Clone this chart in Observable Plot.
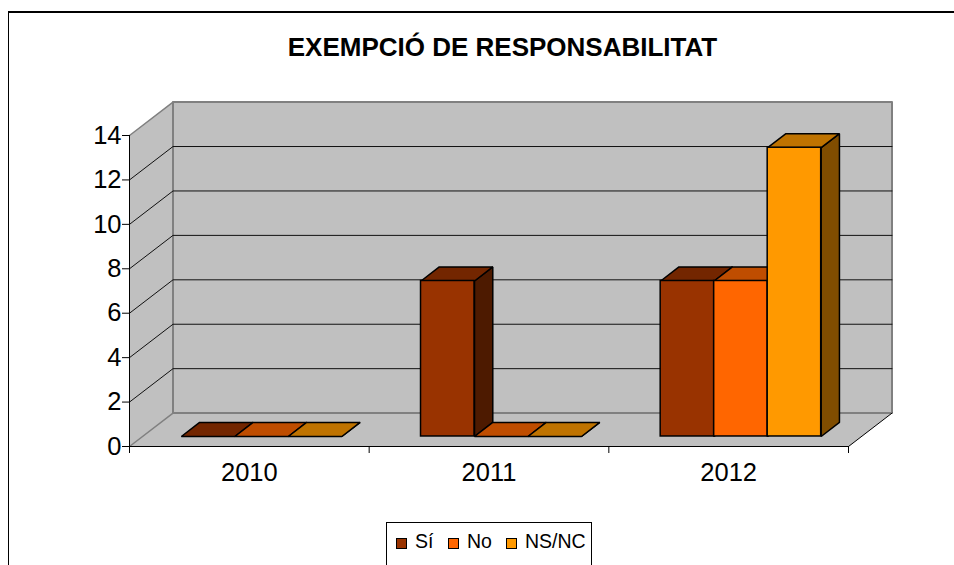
<!DOCTYPE html>
<html lang="ca">
<head>
<meta charset="utf-8">
<script src="https://cdn.jsdelivr.net/npm/d3@7"></script>
<script src="https://cdn.jsdelivr.net/npm/@observablehq/plot@0.6"></script>
<style>
  html, body { margin: 0; padding: 0; background: #fff; }
  #page { position: relative; width: 954px; height: 565px; overflow: hidden; font-family: "Liberation Sans", Arial, sans-serif; color: #000; }
  #frame { position: absolute; left: 8px; top: 11px; width: 960px; height: 600px; border-left: 1.5px solid #000; border-top: 2px solid #000; }
  #title { position: absolute; left: 0; width: 1005px; top: 33px; text-align: center; font-size: 26px; font-weight: bold; line-height: 28px; }
  #chart { position: absolute; left: 0; top: 0; }
  #chart svg { background: transparent; }
  #legend { position: absolute; left: 386px; top: 522px; width: 204px; height: 42px; border: 1px solid #000; box-sizing: content-box; font-size: 19.5px; }
  #legend span.s { position: absolute; top: 15px; width: 9px; height: 9px; border: 1.5px solid #000; }
  #legend span.t { position: absolute; top: 8px; line-height: 20px; }
</style>
</head>
<body>
<div id="page">
  <div id="frame"></div>
  <div id="chart"></div>
  <div id="title">EXEMPCIÓ DE RESPONSABILITAT</div>
  <div id="legend"></div>
</div>
<script>
const title = "EXEMPCIÓ DE RESPONSABILITAT";
const years = ["2010", "2011", "2012"];
const seriesNames = ["Sí", "No", "NS/NC"];
const valuesSi = [0, 7, 7];
const valuesNo = [0, 0, 7];
const valuesNsNc = [0, 0, 13];
const yTicks = [0, 2, 4, 6, 8, 10, 12, 14];
const frontColors = ["#993300", "#ff6600", "#ff9900"];
const topColors = ["#732600", "#bf4d00", "#bf7300"];
const sideColors = ["#4d1a00", "#803300", "#804d00"];

const seriesValues = [valuesSi, valuesNo, valuesNsNc];

// Layout of the oblique projection
const W = 954, H = 565;
const left = 129, right = 848, top_ = 135, bottom = 446;
const depthX = 43.5, depthY = 33.4;
const pxPerCat = (right - left) / years.length;
const pxPerUnit = (bottom - top_) / 14;
const P = (x, v, d) => ({x: x + d * depthX / pxPerCat, y: v + d * depthY / pxPerUnit});

// Bar geometry, in category units / depth fractions
const barFront = 0.30, barBack = 0.72;
const barGap = 38.8 / pxPerCat, barW = 53.5 / pxPerCat;

const wallFill = "#c0c0c0", edge = "#808080";
const poly = (pts, o) => Plot.line(pts, {x: "x", y: "y", curve: "linear-closed", ...o});
const seg = (pts, o) => Plot.line(pts, {x: "x", y: "y", ...o});

const marks = [];

// Walls and floor
marks.push(poly([P(0,0,0),P(3,0,0),P(3,0,1),P(0,0,1)], {fill: wallFill, stroke: "none"}));
marks.push(poly([P(0,0,0),P(0,14,0),P(0,14,1),P(0,0,1)], {fill: wallFill, stroke: "none"}));
marks.push(poly([P(0,0,1),P(3,0,1),P(3,14,1),P(0,14,1)], {fill: wallFill, stroke: edge, strokeWidth: 2}));

// Gridlines
for (const v of yTicks) {
  if (v === 0 || v === 14) continue;
  marks.push(seg([P(0,v,0),P(0,v,1),P(3,v,1)], {stroke: "#111", strokeWidth: 1}));
}

// Wall edges
marks.push(seg([P(0,14,0),P(0,14,1)], {stroke: edge, strokeWidth: 1.5}));
marks.push(seg([P(0,0,0),P(0,0,1)], {stroke: edge, strokeWidth: 1.5}));
marks.push(seg([P(3,0,0),P(3,0,1)], {stroke: "#000", strokeWidth: 1}));

// Bars, painted back to front so later bars overlap earlier ones
years.forEach((year, i) => {
  seriesNames.forEach((name, s) => {
    const v = seriesValues[s][i];
    const x0 = i + barGap + s * barW, x1 = x0 + barW;
    const style = {stroke: "#000", strokeWidth: 1.5, strokeLinejoin: "miter"};
    marks.push(poly([P(x1,0,barFront),P(x1,v,barFront),P(x1,v,barBack),P(x1,0,barBack)], {fill: sideColors[s], ...style}));
    marks.push(poly([P(x0,v,barFront),P(x1,v,barFront),P(x1,v,barBack),P(x0,v,barBack)], {fill: topColors[s], ...style}));
    const a = P(x0, 0, barFront), b = P(x1, v, barFront);
    marks.push(Plot.rectY([{year, name, v}], {x1: () => a.x, x2: () => b.x, y1: () => a.y, y2: () => b.y, fill: frontColors[s], ...style}));
  });
});

// Axes
marks.push(Plot.axisY({ticks: yTicks, tickSize: 7, tickPadding: 1, fontSize: 25.5, label: null, stroke: "#000", fill: "#000"}));
marks.push(Plot.ruleX([0], {y1: 0, y2: 14, stroke: "#000", strokeWidth: 1}));
marks.push(Plot.ruleY([0], {x1: 0, x2: 3, stroke: "#000", strokeWidth: 1}));
marks.push(Plot.axisX({ticks: [0, 1, 2, 3], tickSize: 7, tickFormat: () => "", label: null, stroke: "#000"}));
marks.push(Plot.axisX({ticks: years.map((_, i) => i + 0.5), tickSize: 0, tickPadding: 16, fontSize: 25.5, label: null, fill: "#000", tickFormat: d => years[Math.floor(d)]}));

const chart = Plot.plot({
  width: W, height: H,
  marginLeft: left, marginRight: W - right, marginTop: top_, marginBottom: H - bottom,
  x: {type: "linear", domain: [0, 3]},
  y: {type: "linear", domain: [0, 14]},
  style: {fontFamily: '"Liberation Sans", Arial, sans-serif', background: "transparent", color: "#000", overflow: "visible"},
  marks
});
document.getElementById("chart").append(chart);
document.getElementById("title").textContent = title;

// Legend
const legend = document.getElementById("legend");
const swatchX = [9, 61, 119], textX = [28, 80, 138];
seriesNames.forEach((name, s) => {
  const sw = document.createElement("span");
  sw.className = "s"; sw.style.left = swatchX[s] + "px"; sw.style.background = frontColors[s];
  const t = document.createElement("span");
  t.className = "t"; t.style.left = textX[s] + "px"; t.textContent = name;
  legend.append(sw, t);
});
</script>
</body>
</html>
